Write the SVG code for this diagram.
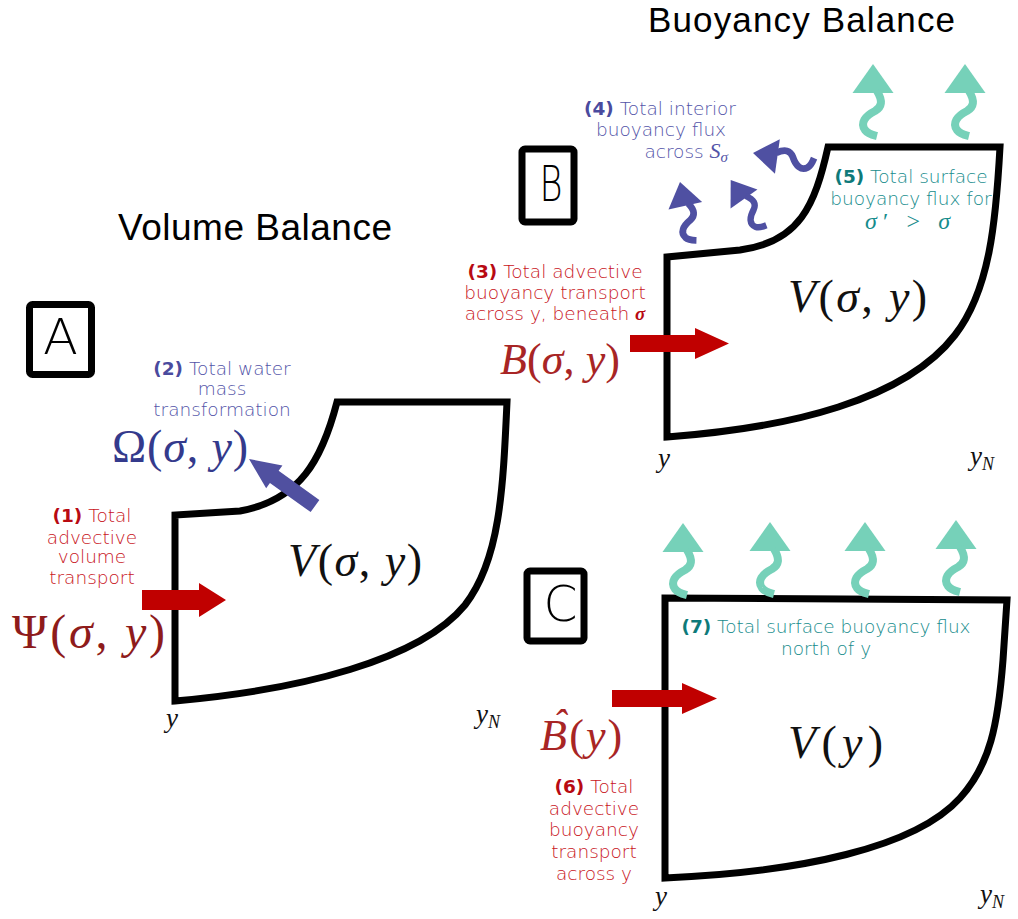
<svg xmlns="http://www.w3.org/2000/svg" xmlns:xlink="http://www.w3.org/1999/xlink" width="1018" height="919" viewBox="0 0 1018 919">
<style>
.lbl{font-family:"DejaVu Sans",sans-serif;font-size:18.5px;text-anchor:middle;font-weight:300}
.b{font-weight:bold}
.red{fill:#C8141C}
.redb{fill:#B80A12}
.blue{fill:#5354A8}
.blueb{fill:#4A4B9E}
.teal{fill:#168C8C}
.tealb{fill:#0E7A7A}
.math{font-family:"Liberation Serif","DejaVu Serif",serif}
.it{font-style:italic}
.region{fill:none;stroke:#000;stroke-width:7;stroke-linejoin:miter}
.box{fill:none;stroke:#000;stroke-width:7}
.boxl{font-family:"DejaVu Sans",sans-serif;font-weight:300;font-size:49px;text-anchor:middle;fill:#000}
.title{font-family:"Liberation Sans",Arial,sans-serif;fill:#000}
.wv-head{fill:currentColor}
.wv-tail{fill:none;stroke:currentColor;stroke-width:8}
</style>
<defs>
<g id="wv">
<polygon class="wv-head" points="0,-29 -20.5,0 20.5,0"/>
<path class="wv-tail" d="M4,-2 C10,8 9,14 2,18 C-8,23 -13,30 -8,37 C-5,41 0,42 4,43"/>
</g>
</defs>
<rect width="1018" height="919" fill="#fff"/>

<g id="titles">
<text class="title" x="648" y="32" font-size="35" textLength="307">Buoyancy Balance</text>
<text class="title" x="118" y="240" font-size="37" textLength="274">Volume Balance</text>
</g>

<!-- Panel A -->
<g id="box-A">
<rect class="box" x="29.5" y="304.5" width="62" height="70" rx="3"/>
<text class="boxl" x="60.5" y="354" textLength="35" lengthAdjust="spacingAndGlyphs">A</text>
</g>
<g id="region-A">
<path class="region" d="M175,515 L175,701 C300,690 420,660 465,605 C500,560 503,490 507,402 L337,402 C322,460 300,500 240,511 Z"/>
<text class="math" x="288" y="576" font-size="46" textLength="134" fill="#111"><tspan class="it">V</tspan>(<tspan class="it">σ</tspan>, <tspan class="it">y</tspan>)</text>
<text class="math it" x="166" y="727" font-size="27" fill="#111">y</text>
<text class="math it" x="476" y="723" font-size="27" fill="#111">y<tspan font-size="18" dy="5">N</tspan></text>
</g>
<g id="label-1">
<text class="lbl red" x="92" y="522"><tspan class="b redb">(1)</tspan> Total</text>
<text class="lbl red" x="92" y="544">advective</text>
<text class="lbl red" x="92" y="563">volume</text>
<text class="lbl red" x="92" y="584">transport</text>
<text class="math" x="12" y="648" font-size="48" textLength="153" fill="#8E1B1B">Ψ(<tspan class="it">σ</tspan>, <tspan class="it">y</tspan>)</text>
</g>
<g id="label-2">
<text class="lbl blue" x="222" y="375"><tspan class="b blueb">(2)</tspan> Total water</text>
<text class="lbl blue" x="222" y="395">mass</text>
<text class="lbl blue" x="222" y="416">transformation</text>
<text class="math" x="112" y="462" font-size="46" textLength="136" fill="#343A8C">Ω(<tspan class="it">σ</tspan>, <tspan class="it">y</tspan>)</text>
</g>

<!-- Panel B -->
<g id="box-B">
<rect class="box" x="522" y="149" width="52" height="73" rx="3"/>
<text class="boxl" x="551" y="201" textLength="23" lengthAdjust="spacingAndGlyphs">B</text>
</g>
<g id="region-B">
<path class="region" d="M667,257 L667,437 C790,428 905,400 955,335 C990,290 996,220 1000,147 L828,147 C815,205 800,242 740,250 Z"/>
<text class="math" x="788" y="312" font-size="46" textLength="139" fill="#111"><tspan class="it">V</tspan>(<tspan class="it">σ</tspan>, <tspan class="it">y</tspan>)</text>
<text class="math it" x="658" y="467" font-size="27" fill="#111">y</text>
<text class="math it" x="970" y="465" font-size="27" fill="#111">y<tspan font-size="18" dy="5">N</tspan></text>
</g>
<g id="label-3">
<text class="lbl red" x="555" y="278"><tspan class="b redb">(3)</tspan> Total advective</text>
<text class="lbl red" x="555" y="299">buoyancy transport</text>
<text class="lbl red" x="555" y="320">across y, beneath <tspan class="math it b redb" font-size="19">σ</tspan></text>
<text class="math" x="500" y="374" font-size="44" textLength="120" fill="#A82525"><tspan class="it">B</tspan>(<tspan class="it">σ</tspan>, <tspan class="it">y</tspan>)</text>
</g>
<g id="label-4">
<text class="lbl blue" x="660" y="115"><tspan class="b blueb">(4)</tspan> Total interior</text>
<text class="lbl blue" x="661" y="136">buoyancy flux</text>
<text class="lbl blue" x="728" y="158" text-anchor="end" style="text-anchor:end">across <tspan class="math it" font-size="22">S</tspan><tspan class="math it" font-size="15" dy="4">σ</tspan></text>
</g>
<g id="label-5">
<text class="lbl teal" x="911" y="183"><tspan class="b tealb">(5)</tspan> Total surface</text>
<text class="lbl teal" x="911" y="205">buoyancy flux for</text>
<text class="math teal" x="865" y="229" font-size="24" textLength="85"><tspan class="it">σ</tspan>′ &gt; <tspan class="it">σ</tspan></text>
</g>

<!-- Panel C -->
<g id="box-C">
<rect class="box" x="527" y="571" width="57" height="70" rx="3"/>
<text class="boxl" x="560.5" y="621" textLength="34" lengthAdjust="spacingAndGlyphs">C</text>
</g>
<g id="region-C">
<path class="region" d="M665,598 L665,878 C800,872 915,848 960,798 C990,765 998,725 1003,660 L1007,600 Z"/>
<text class="math" x="788" y="758" font-size="46" textLength="95" fill="#111"><tspan class="it">V</tspan>(<tspan class="it">y</tspan>)</text>
<text class="math it" x="655" y="905" font-size="27" fill="#111">y</text>
<text class="math it" x="980" y="903" font-size="27" fill="#111">y<tspan font-size="18" dy="5">N</tspan></text>
</g>
<g id="label-6">
<text class="math" x="540" y="750" font-size="44" fill="#A82525"><tspan class="it">B</tspan><tspan class="it" dx="-14" dy="-13" font-size="40">ˆ</tspan><tspan dx="3" dy="13">(</tspan><tspan class="it" dx="2">y</tspan><tspan dx="2">)</tspan></text>
<text class="lbl red" x="594" y="793"><tspan class="b redb">(6)</tspan> Total</text>
<text class="lbl red" x="594" y="815">advective</text>
<text class="lbl red" x="594" y="836">buoyancy</text>
<text class="lbl red" x="594" y="858">transport</text>
<text class="lbl red" x="594" y="880">across y</text>
</g>
<g id="label-7">
<text class="lbl teal" x="826" y="633"><tspan class="b tealb">(7)</tspan> Total surface buoyancy flux</text>
<text class="lbl teal" x="826" y="655">north of y</text>
</g>

<g id="connectors">
<polygon fill="#C00000" points="142,590 199,590 199,583 226,600 199,617 199,610 142,610"/>
<polygon fill="#C00000" points="630,335 695,335 695,328 729,343.5 695,359 695,352 630,352"/>
<polygon fill="#C00000" points="612,690 682,690 682,683 717,698.5 682,714 682,707 612,707"/>
<polygon fill="#5050A0" transform="translate(315,506) rotate(215.5)" points="0,-7.5 50,-7.5 50,-14 81,0 50,14 50,7.5 0,7.5"/>
<g style="color:#4F50A2">
<use xlink:href="#wv" transform="translate(685.3,205.8) rotate(-12.6) scale(0.84)"/>
<use xlink:href="#wv" transform="translate(744,199) rotate(-35) scale(0.8)"/>
<use xlink:href="#wv" transform="translate(777.4,156.4) rotate(-82) scale(0.85)"/>
</g>
<g style="color:#76D1B9">
<use xlink:href="#wv" transform="translate(873,93)"/>
<use xlink:href="#wv" transform="translate(965,93)"/>
<use xlink:href="#wv" transform="translate(683,552)"/>
<use xlink:href="#wv" transform="translate(770,551)"/>
<use xlink:href="#wv" transform="translate(865,551)"/>
<use xlink:href="#wv" transform="translate(956,549)"/>
</g>
</g>
</svg>
